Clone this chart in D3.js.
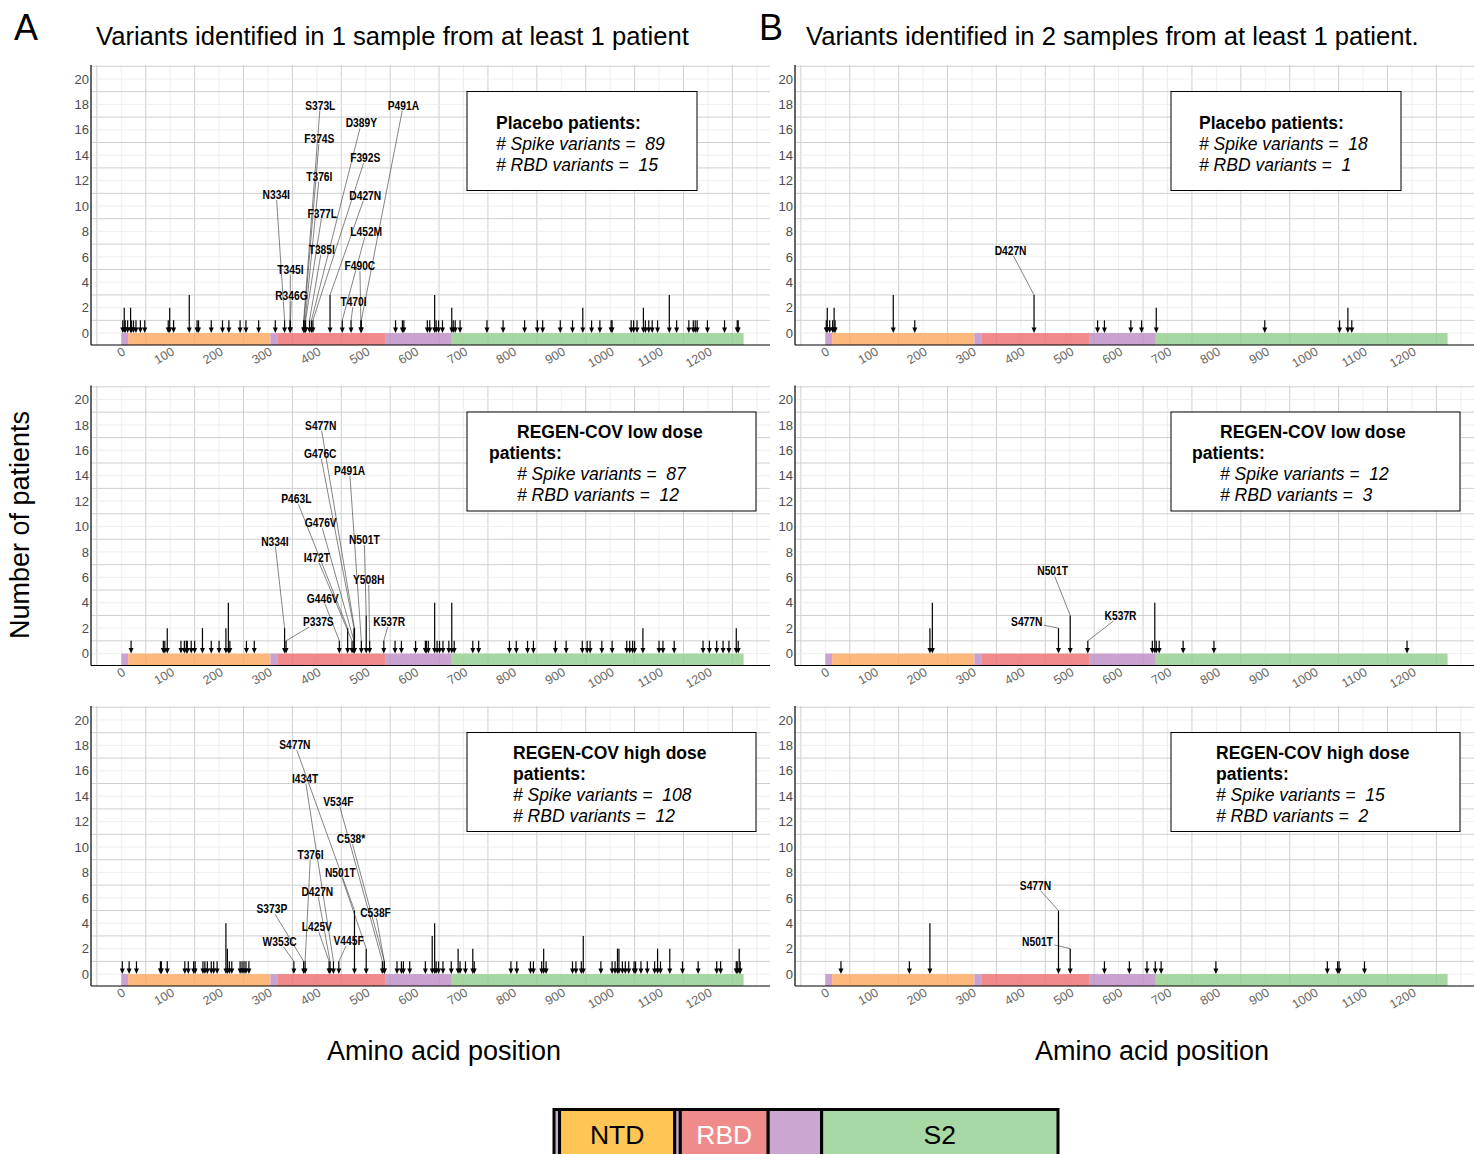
<!DOCTYPE html>
<html>
<head>
<meta charset="utf-8">
<script src="https://cdn.jsdelivr.net/npm/d3@7"></script>
<style>
body { margin: 0; background: #fff; }
text { font-family: "Liberation Sans", Arial, Helvetica, sans-serif; }
.lab { font-weight: bold; font-size: 12.5px; }
</style>
</head>
<body>
<svg id="chart" width="1476" height="1154"></svg>
<script>
// ---- data ----
const titleA = "Variants identified in 1 sample from at least 1 patient";
const titleB = "Variants identified in 2 samples from at least 1 patient.";
const cohortLines = [["Placebo patients:"], ["REGEN-COV low dose", "patients:"], ["REGEN-COV high dose", "patients:"]];
const spikeTotals = [[89, 18], [87, 12], [108, 15]];   // [row][column]
const rbdTotals = [[15, 1], [12, 3], [12, 2]];

const domainStart = [0, 14, 305, 319, 541, 676];
const domainEnd = [14, 305, 319, 541, 676, 1273];
const domainNames = ["", "NTD", "", "RBD", "", "S2"];

const xTicks = d3.range(0, 1201, 100);
const yTicks = d3.range(0, 21, 2);

// unlabelled variants: [amino acid position, number of patients]
const varsA1 = [[3,1],[6,2],[8,1],[13,1],[19,2],[21,1],[25,1],[30,1],[39,1],[48,1],[96,1],[99,2],[107,1],[139,3],[155,1],[158,1],[184,1],[207,1],[220,1],[243,1],[255,1],[281,1],[315,1],
  [561,1],[575,1],[578,1],[626,1],[631,1],[641,3],[644,1],[649,1],[657,1],[676,2],[679,1],[683,1],[693,1],[748,1],[781,1],[825,1],[851,1],[862,1],[898,1],[923,1],[944,2],[962,1],[979,1],[1002,1],[1004,1],[1043,1],[1048,1],[1055,1],[1068,2],[1072,1],[1079,1],[1086,1],[1097,1],[1121,3],[1136,1],[1161,1],[1170,1],[1174,1],[1178,1],[1199,1],[1234,1],[1260,1],[1262,1]];
const varsA2 = [[20,1],[86,1],[89,1],[94,2],[122,1],[129,1],[133,1],[135,1],[143,1],[150,1],[166,2],[184,1],[200,1],[214,2],[219,4],[222,1],[256,1],[272,1],
  [560,1],[573,1],[602,1],[622,1],[624,1],[628,1],[641,4],[646,1],[651,1],[658,1],[670,1],[676,4],[681,1],[719,1],[731,1],[794,1],[808,1],[831,1],[843,1],[888,1],[910,1],[943,1],[953,1],[959,1],[983,1],[1004,1],[1034,1],[1040,1],[1046,1],[1050,1],[1067,2],[1100,1],[1108,1],[1131,1],[1190,1],[1203,1],[1218,1],[1231,1],[1243,1],[1258,2],[1262,1]];
const varsA3 = [[2,1],[16,1],[31,1],[80,1],[82,1],[94,1],[130,1],[137,1],[148,1],[151,1],[167,1],[171,1],[176,1],[184,1],[189,1],[196,1],[214,4],[217,2],[221,1],[226,1],[243,1],[247,1],[251,1],[255,1],[261,1],
  [564,1],[573,1],[577,1],[590,1],[622,1],[636,3],[641,4],[644,1],[649,1],[658,1],[675,1],[689,2],[693,1],[704,1],[719,2],[722,1],[797,1],[809,1],[837,1],[843,1],[860,1],[864,2],[869,1],[923,1],[930,1],[941,1],[945,3],[981,1],[1004,1],[1010,1],[1015,2],[1018,2],[1025,1],[1031,1],[1038,1],[1049,1],[1052,1],[1063,1],[1076,1],[1091,1],[1097,2],[1103,1],[1122,2],[1148,1],[1180,1],[1218,1],[1226,1],[1258,1],[1260,1],[1264,2],[1266,1]];
const varsB1 = [[2,1],[4,2],[9,1],[15,1],[18,2],[20,1],[139,3],[183,1],[557,1],[571,1],[625,1],[647,1],[677,2],[899,1],[1052,1],[1069,2],[1077,1]];
const varsB2 = [[214,2],[219,4],[669,1],[674,4],[677,1],[683,1],[732,1],[795,1],[1190,1]];
const varsB3 = [[32,1],[172,1],[214,4],[571,1],[622,1],[658,1],[675,1],[687,1],[799,1],[1027,1],[1048,1],[1051,1],[1103,1]];

// labelled RBD variants: [name, position, number of patients]
const labA1 = [["S373L",373,1],["P491A",491,1],["D389Y",389,1],["F374S",374,1],["F392S",392,1],["T376I",376,1],["N334I",334,1],["D427N",427,3],["F377L",377,1],["L452M",452,1],["T385I",385,1],["T345I",345,1],["F490C",490,1],["R346G",346,1],["T470I",470,1]];
const labA2 = [["S477N",477,2],["G476C",476,2],["P491A",491,1],["P463L",463,2],["G476V",476,1],["N334I",334,2],["N501T",501,3],["I472T",472,1],["Y508H",508,1],["G446V",446,1],["P337S",337,1],["K537R",537,1]];
const labA3 = [["S477N",477,5],["I434T",434,1],["V534F",534,1],["C538*",538,1],["T376I",376,1],["N501T",501,2],["D427N",427,1],["S373P",373,1],["C538F",538,1],["L425V",425,1],["W353C",353,1],["V445F",445,1]];
const labB1 = [["D427N",427,3]];
const labB2 = [["N501T",501,3],["S477N",477,2],["K537R",537,1]];
const labB3 = [["S477N",477,5],["N501T",501,2]];

// where the repelled labels sit, in data units: [position, patients]
const spotA1 = [[407,17.95],[577,17.95],[491,16.55],[405,15.3],[499,13.8],[405,12.35],[317,10.9],[499,10.85],[411,9.45],[501,7.98],[410,6.6],[346,5.04],[488,5.3],[348,2.95],[475,2.46]];
const spotA2 = [[408,17.98],[407,15.75],[467,14.4],[358,12.17],[408,10.3],[314,8.86],[497,8.97],[400,7.56],[506,5.83],[412,4.37],[403,2.52],[548,2.52]];
const spotA3 = [[355,18.05],[376,15.38],[444,13.6],[470,10.65],[387,9.4],[448,7.97],[401,6.5],[308,5.13],[520,4.82],[400,3.76],[324,2.57],[465,2.65]];
const spotB1 = [[379,6.5]];
const spotB2 = [[465,6.5],[412,2.5],[604,3.0]];
const spotB3 = [[430,7.0],[434,2.6]];

// ---- layout ----
const svg = d3.select("#chart");
const W = 679, H = 280;
const colLeft = [91, 795];
const rowTop = [65, 385.5, 706];
const barFill = ["#bb8bc4", "#fca75c", "#bb8bc4", "#ec6d6d", "#bb8bc4", "#90cc8b"];
const legendFill = ["#cba6d0", "#ffc655", "#cba6d0", "#f08b8b", "#cba6d0", "#a8d8a3"];
const narrow = 0.82; // Arial Narrow look from Liberation Sans

const panels = [
  { col: 0, row: 0, vars: varsA1, labs: labA1, spots: spotA1 },
  { col: 0, row: 1, vars: varsA2, labs: labA2, spots: spotA2 },
  { col: 0, row: 2, vars: varsA3, labs: labA3, spots: spotA3 },
  { col: 1, row: 0, vars: varsB1, labs: labB1, spots: spotB1 },
  { col: 1, row: 1, vars: varsB2, labs: labB2, spots: spotB2 },
  { col: 1, row: 2, vars: varsB3, labs: labB3, spots: spotB3 }
];

// where a leader line leaves the label box
function leaderStart(cx, cy, w, h, tx, ty) {
  const dx = tx - cx, dy = ty - cy;
  const hw = w / 2 + 1.5, hh = h / 2 + 1;
  if (Math.abs(dx) <= hw && Math.abs(dy) <= hh) return null;
  const s = Math.min(hw / Math.max(Math.abs(dx), 1e-9), hh / Math.max(Math.abs(dy), 1e-9));
  return [cx + dx * s, cy + dy * s];
}

panels.forEach(p => {
  const left = colLeft[p.col], top = rowTop[p.row];
  const x = d3.scaleLinear().domain([-62, 1327]).range([left, left + W]);
  const y = d3.scaleLinear().domain([-0.94, 21.1]).range([top + H, top]);
  const g = svg.append("g");

  // Grid
  g.append("g").selectAll("line")
    .data(d3.range(-50, 1328, 50))
    .join("line")
    .attr("x1", d => x(d)).attr("x2", d => x(d))
    .attr("y1", top).attr("y2", top + H)
    .attr("stroke", d => d % 100 === 0 ? "#ebebeb" : "#cfcfcf")
    .attr("stroke-width", d => d % 100 === 0 ? 0.8 : 1);

  g.append("g").selectAll("line")
    .data(d3.range(0, 22))
    .join("line")
    .attr("x1", left).attr("x2", left + W)
    .attr("y1", d => y(d)).attr("y2", d => y(d))
    .attr("stroke", d => d % 2 === 0 ? "#ebebeb" : "#cfcfcf")
    .attr("stroke-width", d => d % 2 === 0 ? 0.8 : 1);

  // Protein domains along the baseline
  g.append("g").selectAll("rect")
    .data(domainStart)
    .join("rect")
    .attr("x", (d, i) => x(d))
    .attr("width", (d, i) => x(domainEnd[i]) - x(d))
    .attr("y", y(0))
    .attr("height", y(-0.94) - y(0))
    .attr("fill", (d, i) => barFill[i])
    .attr("fill-opacity", 0.8);

  // Variant arrows
  const all = p.vars.concat(p.labs.map(l => [l[1], l[2]]));
  const arrows = g.append("g");
  arrows.selectAll("line")
    .data(all)
    .join("line")
    .attr("x1", d => x(d[0])).attr("x2", d => x(d[0]))
    .attr("y1", d => y(d[1])).attr("y2", y(0) - 3)
    .attr("stroke", "#000")
    .attr("stroke-width", 1.2);
  arrows.selectAll("path")
    .data(all)
    .join("path")
    .attr("d", d => {
      const ax = x(d[0]), ay = y(0);
      return `M${ax - 2.5},${ay - 5.5}L${ax + 2.5},${ay - 5.5}L${ax},${ay}Z`;
    })
    .attr("fill", "#000");

  // Repelled labels with leader lines
  const leaders = g.append("g");
  const labels = g.append("g");
  p.labs.forEach((l, i) => {
    const cx = x(p.spots[i][0]), cy = y(p.spots[i][1]);
    const t = labels.append("text")
      .attr("class", "lab")
      .attr("transform", `translate(${cx},${cy}) scale(${narrow},1)`)
      .attr("text-anchor", "middle")
      .attr("dy", "0.36em")
      .text(l[0]);
    const w = t.node().getBBox().width * narrow;
    const tx = x(l[1]), ty = y(l[2]);
    const s = leaderStart(cx, cy, w, 9, tx, ty);
    if (s) {
      leaders.append("line")
        .attr("x1", s[0]).attr("y1", s[1])
        .attr("x2", tx).attr("y2", ty)
        .attr("stroke", "#333")
        .attr("stroke-width", 0.6);
    }
  });

  // Axes
  g.append("line")
    .attr("x1", left).attr("x2", left)
    .attr("y1", top).attr("y2", top + H)
    .attr("stroke", "#000").attr("stroke-width", 1.2);
  g.append("line")
    .attr("x1", left).attr("x2", left + W)
    .attr("y1", top + H).attr("y2", top + H)
    .attr("stroke", "#000").attr("stroke-width", 1.2);

  g.append("g").selectAll("text")
    .data(yTicks)
    .join("text")
    .attr("x", left - 2)
    .attr("y", d => y(d))
    .attr("dy", "0.36em")
    .attr("text-anchor", "end")
    .attr("fill", "#4d4d4d")
    .style("font-size", "13px")
    .text(d => d);

  g.append("g").selectAll("text")
    .data(xTicks)
    .join("text")
    .attr("transform", d => `translate(${x(d) + 5},${top + H + 9}) rotate(-30)`)
    .attr("text-anchor", "end")
    .attr("fill", "#666")
    .style("font-size", "12.5px")
    .text(d => d);

  // Summary box
  const bx = left + 376, by = top + 26.5;
  const bw = p.row === 0 ? 230 : 289;
  g.append("rect")
    .attr("x", bx).attr("y", by)
    .attr("width", bw).attr("height", 99)
    .attr("fill", "#fff")
    .attr("stroke", "#000")
    .attr("stroke-width", 1);

  const head = cohortLines[p.row];
  const lines = head.map(h => ({ text: h, bold: true }))
    .concat([
      { text: `# Spike variants =  ${spikeTotals[p.row][p.col]}`, bold: false },
      { text: `# RBD variants =  ${rbdTotals[p.row][p.col]}`, bold: false }
    ]);
  const baseTop = lines.length === 3 ? 37 : 26;
  const indent = [29, 50, 46][p.row];
  lines.forEach((ln, i) => {
    const dx = (p.row === 1 && i === 1) ? 22 : indent;
    g.append("text")
      .attr("x", bx + dx - (p.col === 1 ? 1 : 0))
      .attr("y", by + baseTop + i * 21)
      .style("font-size", "17.5px")
      .style("font-weight", ln.bold ? "bold" : "normal")
      .style("font-style", ln.bold ? "normal" : "italic")
      .style("white-space", "pre")
      .text(ln.text);
  });
});

// Titles
svg.append("text").attr("x", 14).attr("y", 40).style("font-size", "36px").text("A");
svg.append("text").attr("x", 96).attr("y", 45).style("font-size", "25.6px").text(titleA);
svg.append("text").attr("x", 759).attr("y", 40).style("font-size", "36px").text("B");
svg.append("text").attr("x", 806).attr("y", 45).style("font-size", "25.6px").text(titleB);

svg.append("text")
  .attr("transform", "translate(29,525) rotate(-90)")
  .attr("text-anchor", "middle")
  .style("font-size", "27px")
  .text("Number of patients");

[[colLeft[0], 353], [colLeft[1], 357]].forEach(([l, off]) => {
  svg.append("text")
    .attr("x", l + off).attr("y", 1060)
    .attr("text-anchor", "middle")
    .style("font-size", "27px")
    .text("Amino acid position");
});

// Domain legend at the bottom
const lx = d3.scaleLinear().domain([0, 1273]).range([554, 1058]);
const legend = svg.append("g");
legend.selectAll("rect")
  .data(domainStart)
  .join("rect")
  .attr("x", d => lx(d))
  .attr("width", (d, i) => lx(domainEnd[i]) - lx(d))
  .attr("y", 1109.5)
  .attr("height", 60)
  .attr("fill", (d, i) => legendFill[i])
  .attr("stroke", "#000")
  .attr("stroke-width", 3);
legend.selectAll("text")
  .data(domainStart)
  .join("text")
  .attr("x", (d, i) => (lx(d) + lx(domainEnd[i])) / 2)
  .attr("y", 1144)
  .attr("text-anchor", "middle")
  .attr("fill", (d, i) => domainNames[i] === "RBD" ? "#fff" : "#000")
  .style("font-size", "26.5px")
  .text((d, i) => domainNames[i]);
</script>
</body>
</html>
